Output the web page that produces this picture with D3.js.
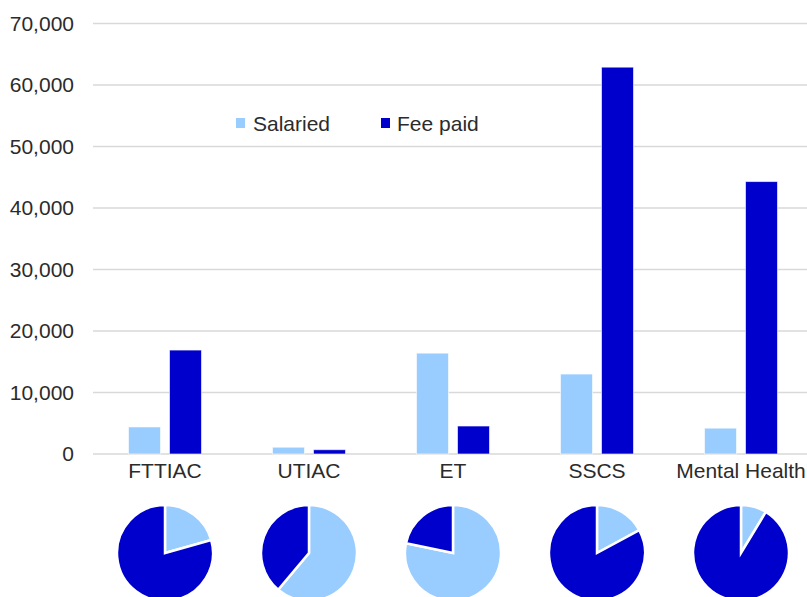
<!DOCTYPE html>
<html>
<head>
<meta charset="utf-8">
<script src="https://cdn.jsdelivr.net/npm/d3@7"></script>
<style>
  html, body { margin: 0; padding: 0; background: #fff; }
  svg { display: block; }
  text { font-family: "Liberation Sans", Arial, sans-serif; fill: #2b2b2b; }
</style>
</head>
<body>
<svg id="chart" width="807" height="597"></svg>
<script>
const categories = ["FTTIAC", "UTIAC", "ET", "SSCS", "Mental Health"];
const series = ["Salaried", "Fee paid"];
const salaried = [4400, 1100, 16400, 13000, 4200];
const feePaid = [16900, 700, 4550, 62900, 44300];
const yTicks = [0, 10000, 20000, 30000, 40000, 50000, 60000, 70000];
const colors = ["#99CCFF", "#0000CC"];

const svg = d3.select("#chart");
const W = 807, H = 597;
const FS = "21px";

const x0 = d3.scaleBand().domain(categories).range([93, 813]).paddingInner(0);
const x1 = d3.scaleBand().domain(series).range([35.5, 108.5]).paddingInner(0.22);
const y = d3.scaleLinear().domain([0, 70000]).range([454, 23.5]);
const color = d3.scaleOrdinal().domain(series).range(colors);

// gridlines
svg.append("g").selectAll("line").data(yTicks).join("line")
  .attr("x1", 93).attr("x2", W)
  .attr("y1", d => y(d)).attr("y2", d => y(d))
  .attr("stroke", "#d9d9d9").attr("stroke-width", 1.3);

// y axis labels
const yAxis = d3.axisLeft(y).tickValues(yTicks).tickSize(0).tickPadding(0)
  .tickFormat(d3.format(","));
const ya = svg.append("g").attr("transform", "translate(74,0)").call(yAxis);
ya.select(".domain").remove();
ya.selectAll("text").style("font-size", FS).attr("fill", "#2b2b2b")
  .style("font-family", "'Liberation Sans', Arial, sans-serif");

// x labels
const xAxis = d3.axisBottom(x0).tickSize(0).tickPadding(0);
const xa = svg.append("g").attr("transform", "translate(0,463)").call(xAxis);
xa.select(".domain").remove();
xa.selectAll("text").style("font-size", FS).attr("fill", "#2b2b2b")
  .style("font-family", "'Liberation Sans', Arial, sans-serif");

// bars
const rows = categories.map((c, i) => ({ cat: c, vals: [salaried[i], feePaid[i]] }));
const groups = svg.append("g").selectAll("g").data(rows).join("g")
  .attr("transform", d => `translate(${x0(d.cat)},0)`);
groups.selectAll("rect").data(d => series.map((s, j) => ({ s, v: d.vals[j] }))).join("rect")
  .attr("x", d => x1(d.s))
  .attr("width", x1.bandwidth())
  .attr("y", d => y(d.v))
  .attr("height", d => y(0) - y(d.v))
  .attr("fill", d => color(d.s))
  .attr("stroke", "#ffffff").attr("stroke-opacity", 0.6).attr("stroke-width", 1);

// legend
const legendItems = [
  { s: "Salaried", sx: 236, tx: 253 },
  { s: "Fee paid", sx: 381, tx: 397 }
];
const lg = svg.append("g");
lg.selectAll("rect").data(legendItems).join("rect")
  .attr("x", d => d.sx).attr("y", 118).attr("width", 9).attr("height", 10)
  .attr("fill", d => color(d.s));
lg.selectAll("text").data(legendItems).join("text")
  .attr("x", d => d.tx).attr("y", 131)
  .style("font-size", FS)
  .text(d => d.s);

// pies
const pie = d3.pie().sort(null).value(d => d.v);
const arc = d3.arc().innerRadius(0).outerRadius(48);
const pg = svg.append("g").selectAll("g").data(rows).join("g")
  .attr("transform", d => `translate(${x0(d.cat) + x0.bandwidth() / 2},553)`);
pg.selectAll("path").data(d => pie(series.map((s, j) => ({ s, v: d.vals[j] })))).join("path")
  .attr("d", arc)
  .attr("fill", d => color(d.data.s))
  .attr("stroke", "#fff").attr("stroke-width", 2.5).attr("stroke-linejoin", "miter");
</script>
</body>
</html>
